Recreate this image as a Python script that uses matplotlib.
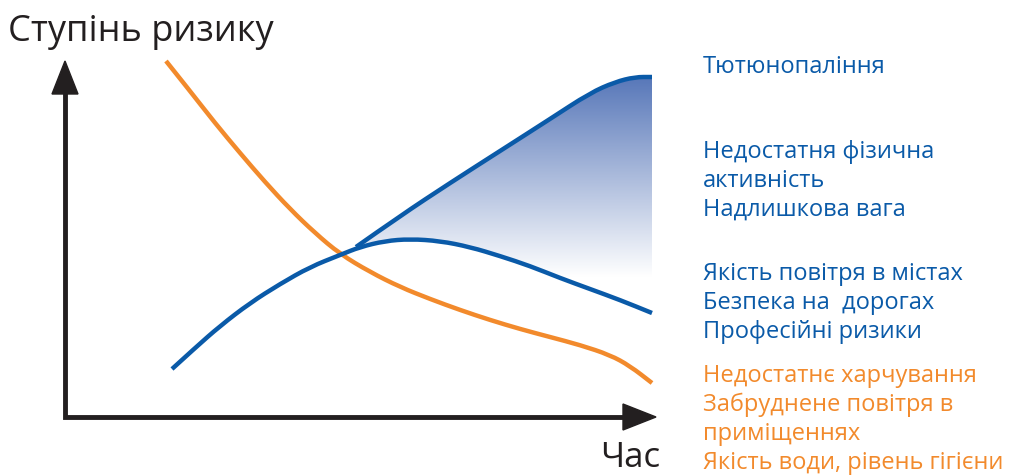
import numpy as np
import matplotlib.pyplot as plt
from matplotlib.path import Path
from matplotlib.patches import PathPatch, FancyArrow
from matplotlib.colors import LinearSegmentedColormap

plt.rcParams['font.family'] = ['Open Sans', 'DejaVu Sans']

# Точки кривих (координати картинки: x вправо, y вниз)
orange_x = [166, 190, 215, 240, 265, 290, 315, 340, 370, 400, 430, 460, 490, 520, 550, 580, 610, 630, 652]
orange_y = [62, 92, 124, 154, 183, 210, 234, 255, 273, 288, 300, 311, 321, 330, 338, 346, 356, 367, 384]

low_x = [172, 195, 220, 250, 280, 310, 340, 360, 385, 410, 440, 470, 500, 530, 560, 590, 620, 652]
low_y = [370, 349, 327, 304, 285, 268, 256, 248, 242, 240, 242, 248, 257, 267, 279, 290, 301, 314]

up_x = [356, 400, 450, 500, 550, 590, 615, 635, 652]
up_y = [248, 217, 184, 152, 120, 94, 83, 78, 78]

labels_blue = ["Тютюнопаління", "Недостатня фізична", "активність", "Надлишкова вага",
               "Якість повітря в містах", "Безпека на  дорогах", "Професійні ризики"]
labels_blue_y = [67, 152, 181, 210, 274, 303, 332]
labels_orange = ["Недостатнє харчування", "Забруднене повітря в", "приміщеннях",
                 "Якість води, рівень гігієни"]
labels_orange_y = [376, 405, 434, 463]

BLUE = '#0a5aa8'
ORANGE = '#f28a2c'
DARK = '#231f20'


def smooth_path(xs, ys):
    # квадратичні криві Безьє через середини відрізків
    pts = list(zip(xs, ys))
    verts = [pts[0]]
    codes = [Path.MOVETO]
    for i in range(1, len(pts) - 1):
        mid = ((pts[i][0] + pts[i + 1][0]) / 2, (pts[i][1] + pts[i + 1][1]) / 2)
        verts += [pts[i], mid]
        codes += [Path.CURVE3, Path.CURVE3]
    verts.append(pts[-1])
    codes.append(Path.LINETO)
    return Path(verts, codes)


fig = plt.figure(figsize=(10.23, 4.77), dpi=100)
ax = fig.add_axes([0, 0, 1, 1])
ax.set_xlim(0, 1023)
ax.set_ylim(477, 0)
ax.axis('off')

# Градієнтна заливка між верхньою та нижньою синіми кривими
verts = list(zip(up_x, up_y)) + [(652, 314)] + [(x, y) for x, y in zip(low_x[::-1], low_y[::-1]) if x >= 358]
clip = PathPatch(Path(verts + [verts[0]]), facecolor='none', edgecolor='none')
ax.add_patch(clip)
grad = np.linspace(0, 1, 256).reshape(-1, 1)
cmap = LinearSegmentedColormap.from_list('g', ['#5676b8', '#ffffff'])
im = ax.imshow(grad, cmap=cmap, aspect='auto', extent=(355, 653, 278, 76),
               origin='upper', zorder=1, interpolation='bilinear')
im.set_clip_path(clip)

for xs, ys, c in [(orange_x, orange_y, ORANGE), (low_x, low_y, BLUE), (up_x, up_y, BLUE)]:
    ax.add_patch(PathPatch(smooth_path(xs, ys), facecolor='none', edgecolor=c,
                           lw=3.2, capstyle='butt', zorder=3))

# Осі зі стрілками
ax.plot([65, 65, 630], [75, 418, 418], color=DARK, lw=3.5, solid_joinstyle='miter', zorder=2)
ax.add_patch(FancyArrow(65, 95, 0, -33, width=0, head_width=26, head_length=33,
                        length_includes_head=True, color=DARK, zorder=2))
ax.add_patch(FancyArrow(620, 418, 36, 0, width=0, head_width=26, head_length=33,
                        length_includes_head=True, color=DARK, zorder=2))

ax.text(8, 32, "Ступінь ризику", fontsize=26, color=DARK, va='center', ha='left')
ax.text(600, 458, "Час", fontsize=25, color=DARK, va='center', ha='left')

for t, y in zip(labels_blue, labels_blue_y):
    ax.text(703, y, t, fontsize=17, color=BLUE, va='center', ha='left')
for t, y in zip(labels_orange, labels_orange_y):
    ax.text(703, y, t, fontsize=17, color=ORANGE, va='center', ha='left')

fig.savefig('out.png', dpi=100)
